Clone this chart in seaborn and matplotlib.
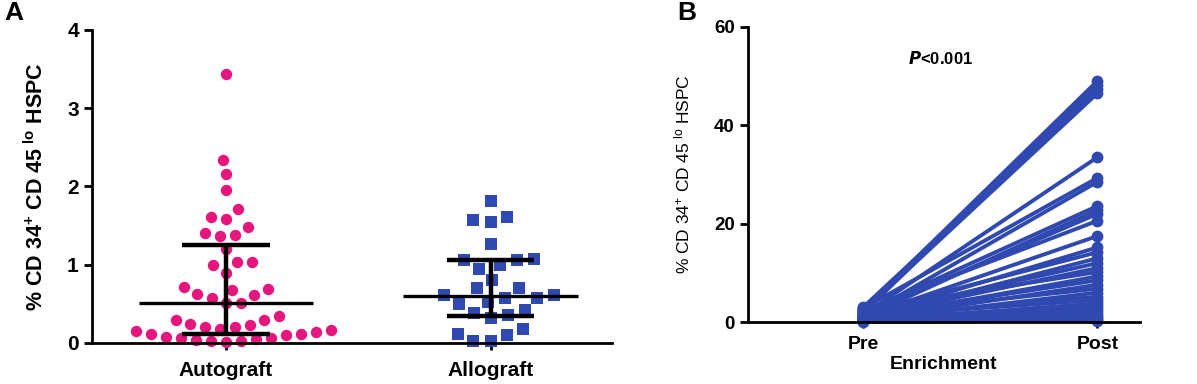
import numpy as np
import pandas as pd
import matplotlib
matplotlib.use("Agg")
import matplotlib.pyplot as plt
import seaborn as sns

# ---------------- data ----------------
groups = ["Autograft", "Allograft"]
autograft = [3.44, 2.34, 2.16, 1.96, 1.71, 1.61, 1.59, 1.48, 1.40, 1.38, 1.37,
             1.20, 1.04, 1.03, 1.00, 0.90, 0.72, 0.69, 0.68, 0.63, 0.61, 0.58,
             0.51, 0.51, 0.34, 0.30, 0.29,
             0.24, 0.23, 0.21, 0.20, 0.18, 0.17, 0.15, 0.14, 0.12, 0.11, 0.10,
             0.08, 0.07, 0.06, 0.05, 0.04, 0.03, 0.02, 0.01]
allograft = [1.81, 1.61, 1.57, 1.55, 1.27, 1.07, 1.06, 1.06, 1.00, 0.95, 0.81,
             0.70, 0.70, 0.61, 0.61, 0.57, 0.57, 0.53, 0.50, 0.42, 0.38, 0.36,
             0.32, 0.18, 0.12, 0.10, 0.02, 0.02]
medians = [0.51, 0.60]
q1 = [0.12, 0.35]
q3 = [1.25, 1.06]

stages = ["Pre", "Post"]
pre_vals = [2.5, 1.8, 3.0, 2.2, 1.5, 2.8, 1.2, 2.0, 0.9, 1.6, 2.4, 1.1, 0.8,
            1.9, 0.6, 1.4, 1.0, 2.6, 0.7, 1.3, 0.5, 1.7, 0.4, 0.9, 1.2, 0.3,
            0.8, 0.5, 1.0, 0.2, 0.6, 0.3, 0.1]
post_vals = [49.0, 48.2, 47.3, 46.5, 33.5, 29.3, 28.5, 23.6, 22.8, 22.0, 20.6,
             17.5, 15.2, 14.2, 13.0, 12.0, 11.0, 10.2, 9.3, 8.5, 7.6, 6.8, 6.0,
             5.2, 4.5, 3.8, 3.2, 2.6, 2.0, 1.5, 1.0, 0.6, 0.3]

pink = "#E5177E"
blue = "#3049B0"

# ---------------- style ----------------
sns.set_style("ticks")
plt.rcParams["font.family"] = ["Liberation Sans", "DejaVu Sans"]
plt.rcParams["mathtext.fontset"] = "custom"
plt.rcParams["mathtext.rm"] = "Liberation Sans"
plt.rcParams["mathtext.bf"] = "Liberation Sans:bold"
plt.rcParams["mathtext.default"] = "regular"
for k in ["text.color", "axes.labelcolor", "xtick.color", "ytick.color", "axes.edgecolor"]:
    plt.rcParams[k] = "black"

fig = plt.figure(figsize=(11.97, 3.84), dpi=100)
axA = fig.add_axes([0.0769, 0.1068, 0.511 - 0.0769, 0.922 - 0.1068])
axB = fig.add_axes([0.625, 0.161, 0.952 - 0.625, 0.930 - 0.161])

# ---------------- panel A ----------------
dfA = pd.DataFrame({
    "group": ["Autograft"] * len(autograft) + ["Allograft"] * len(allograft),
    "value": autograft + allograft,
})
# transparent edge widens the swarm spacing without enlarging the visible marker
sns.swarmplot(data=dfA[dfA.group == "Autograft"], x="group", y="value",
              order=groups, color=pink, marker="o", size=8.2, ax=axA,
              linewidth=2.2, edgecolor=(1, 1, 1, 0), clip_on=False, zorder=2)
sns.swarmplot(data=dfA[dfA.group == "Allograft"], x="group", y="value",
              order=groups, color=blue, marker="s", size=9.2, ax=axA,
              linewidth=2.8, edgecolor=(1, 1, 1, 0), clip_on=False, zorder=2)

xpos = np.arange(len(groups))
axA.hlines(medians, xpos - 0.33, xpos + 0.33, color="black", lw=2.4, zorder=5)
axA.hlines(q1, xpos - 0.165, xpos + 0.165, color="black", lw=3.2, zorder=5)
axA.hlines(q3, xpos - 0.165, xpos + 0.165, color="black", lw=3.2, zorder=5)
axA.vlines(xpos, q1, q3, color="black", lw=3.2, zorder=5)

axA.set_xlim(-0.506, 1.457)
axA.set_ylim(0, 4)
axA.set_yticks([0, 1, 2, 3, 4])
axA.set_xlabel("")
axA.set_ylabel(r"% CD 34$^{\mathbf{+}}$ CD 45$^{\mathbf{\ lo}}$ HSPC",
               fontsize=15.5, fontweight="bold", labelpad=14)
axA.tick_params(axis="y", labelsize=15, width=2, length=6, direction="out")
axA.tick_params(axis="x", labelsize=15, width=2, length=5, direction="out", pad=8)
for lab in axA.get_xticklabels() + axA.get_yticklabels():
    lab.set_fontweight("bold")
sns.despine(ax=axA)
for s in ["left", "bottom"]:
    axA.spines[s].set_linewidth(2)

# ---------------- panel B ----------------
n = len(pre_vals)
dfB = pd.DataFrame({
    "subject": list(range(n)) * 2,
    "stage": ["Pre"] * n + ["Post"] * n,
    "value": pre_vals + post_vals,
})
dfB["pos"] = dfB["stage"].map({s: i for i, s in enumerate(stages)})
sns.lineplot(data=dfB, x="pos", y="value", units="subject", estimator=None,
             color=blue, lw=2.8, marker="o", markersize=8.5,
             markeredgewidth=0, ax=axB, clip_on=False, legend=False)

axB.text(0.33, 53.5, r"$\mathbfit{P}$<0.001", fontsize=12, fontweight="bold",
         ha="center", va="center")
axB.set_xlim(-0.49, 1.18)
axB.set_ylim(0, 60)
axB.set_yticks([0, 20, 40, 60])
axB.set_xticks([0, 1])
axB.set_xticklabels(stages)
axB.set_xlabel("Enrichment", fontsize=14, fontweight="bold", labelpad=2)
axB.set_ylabel(r"% CD 34$^{+}$ CD 45$^{\ lo}$ HSPC", fontsize=12.5, labelpad=16)
axB.tick_params(axis="y", labelsize=13.5, width=2, length=6, direction="out")
axB.tick_params(axis="x", labelsize=14, width=2, length=4, direction="out", pad=6)
for lab in axB.get_xticklabels() + axB.get_yticklabels():
    lab.set_fontweight("bold")
sns.despine(ax=axB)
for s in ["left", "bottom"]:
    axB.spines[s].set_linewidth(2)

fig.text(0.004, 0.997, "A", fontsize=19, fontweight="bold", va="top")
fig.text(0.566, 0.997, "B", fontsize=19, fontweight="bold", va="top")

fig.savefig("out.png", dpi=100)
